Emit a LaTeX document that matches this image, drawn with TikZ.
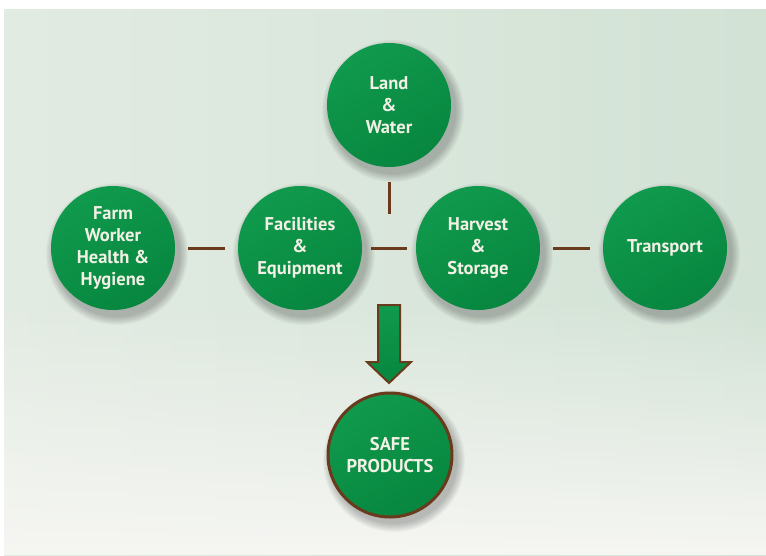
\documentclass[tikz,border=0pt]{standalone}
\usepackage{fontspec}
\setmainfont{PT Sans}
\usetikzlibrary{fadings}
\definecolor{bgleft}{HTML}{E2EBE2}
\definecolor{bgright}{HTML}{D2E2D5}
\definecolor{bglow}{HTML}{F6F6F3}
\definecolor{leafhi}{HTML}{109A4D}
\definecolor{leaflo}{HTML}{07863F}
\definecolor{bark}{HTML}{6A3A1C}
\definecolor{label}{HTML}{F3F1E6}
\pgfdeclarelayer{backdrop}
\pgfdeclarelayer{shade}
\pgfsetlayers{backdrop,shade,main}
\tikzset{
  stage/.style={circle, minimum size=124pt, inner sep=0pt,
    top color=leafhi, bottom color=leaflo, shading angle=30,
    text=label, align=center,
    font=\fontsize{18.5}{22}\selectfont\bfseries},
  goal/.style={stage, draw=bark, line width=3pt},
  link/.style={draw=bark, line width=3pt},
  softdrop/.style={black, opacity=0.028},
}
\begin{document}
\begin{tikzpicture}[x=1pt,y=-1pt]
\useasboundingbox (0,0) rectangle (766,555);
% backdrop panel
\begin{pgfonlayer}{backdrop}
\fill[white] (0,0) rectangle (766,555);
\shade[left color=bgleft, right color=bgright] (4,9) rectangle (766,555);
\fill[bglow, path fading=north] (4,300) rectangle (766,555);
\end{pgfonlayer}

% stages
\node[stage] (land)  at (389,105) {Land\\\&\\Water};
\node[stage] (farm)  at (113,248) {Farm\\Worker\\Health \&\\Hygiene};
\node[stage] (equip) at (300,248) {Facilities\\\&\\Equipment};
\node[stage] (store) at (478,248) {Harvest\\\&\\Storage};
\node[stage] (ship)  at (665,248) {Transport};
\node[goal]  (safe)  at (390,455) {SAFE\\PRODUCTS};

% soft drop shadows under every disc
\begin{pgfonlayer}{shade}
\foreach \n in {land,farm,equip,store,ship,safe}
  \foreach \k in {0,...,8}
    \fill[softdrop] ([shift={(4,6)}]\n.center) circle ({71-\k});
\end{pgfonlayer}

% links between stages
\coordinate (drop) at (389,214);
\draw[link, shorten <=13pt, shorten >=13pt] (farm) -- (equip);
\draw[link, shorten <=9pt, shorten >=9pt] (equip) -- (store);
\draw[link, shorten <=13pt, shorten >=13pt] (store) -- (ship);
\draw[link, shorten <=15pt] (land) -- (drop);

% block arrow into the result
\coordinate (tip) at (389,383);
\filldraw[draw=bark, line width=2pt, top color=leafhi, bottom color=leaflo]
  ([xshift=-11]tip |- 0,305) -- ([xshift=11]tip |- 0,305)
  -- ([xshift=11]tip |- 0,362) -- ([xshift=22]tip |- 0,362)
  -- (tip) -- ([xshift=-22]tip |- 0,362) -- ([xshift=-11]tip |- 0,362) -- cycle;
\end{tikzpicture}
\end{document}
